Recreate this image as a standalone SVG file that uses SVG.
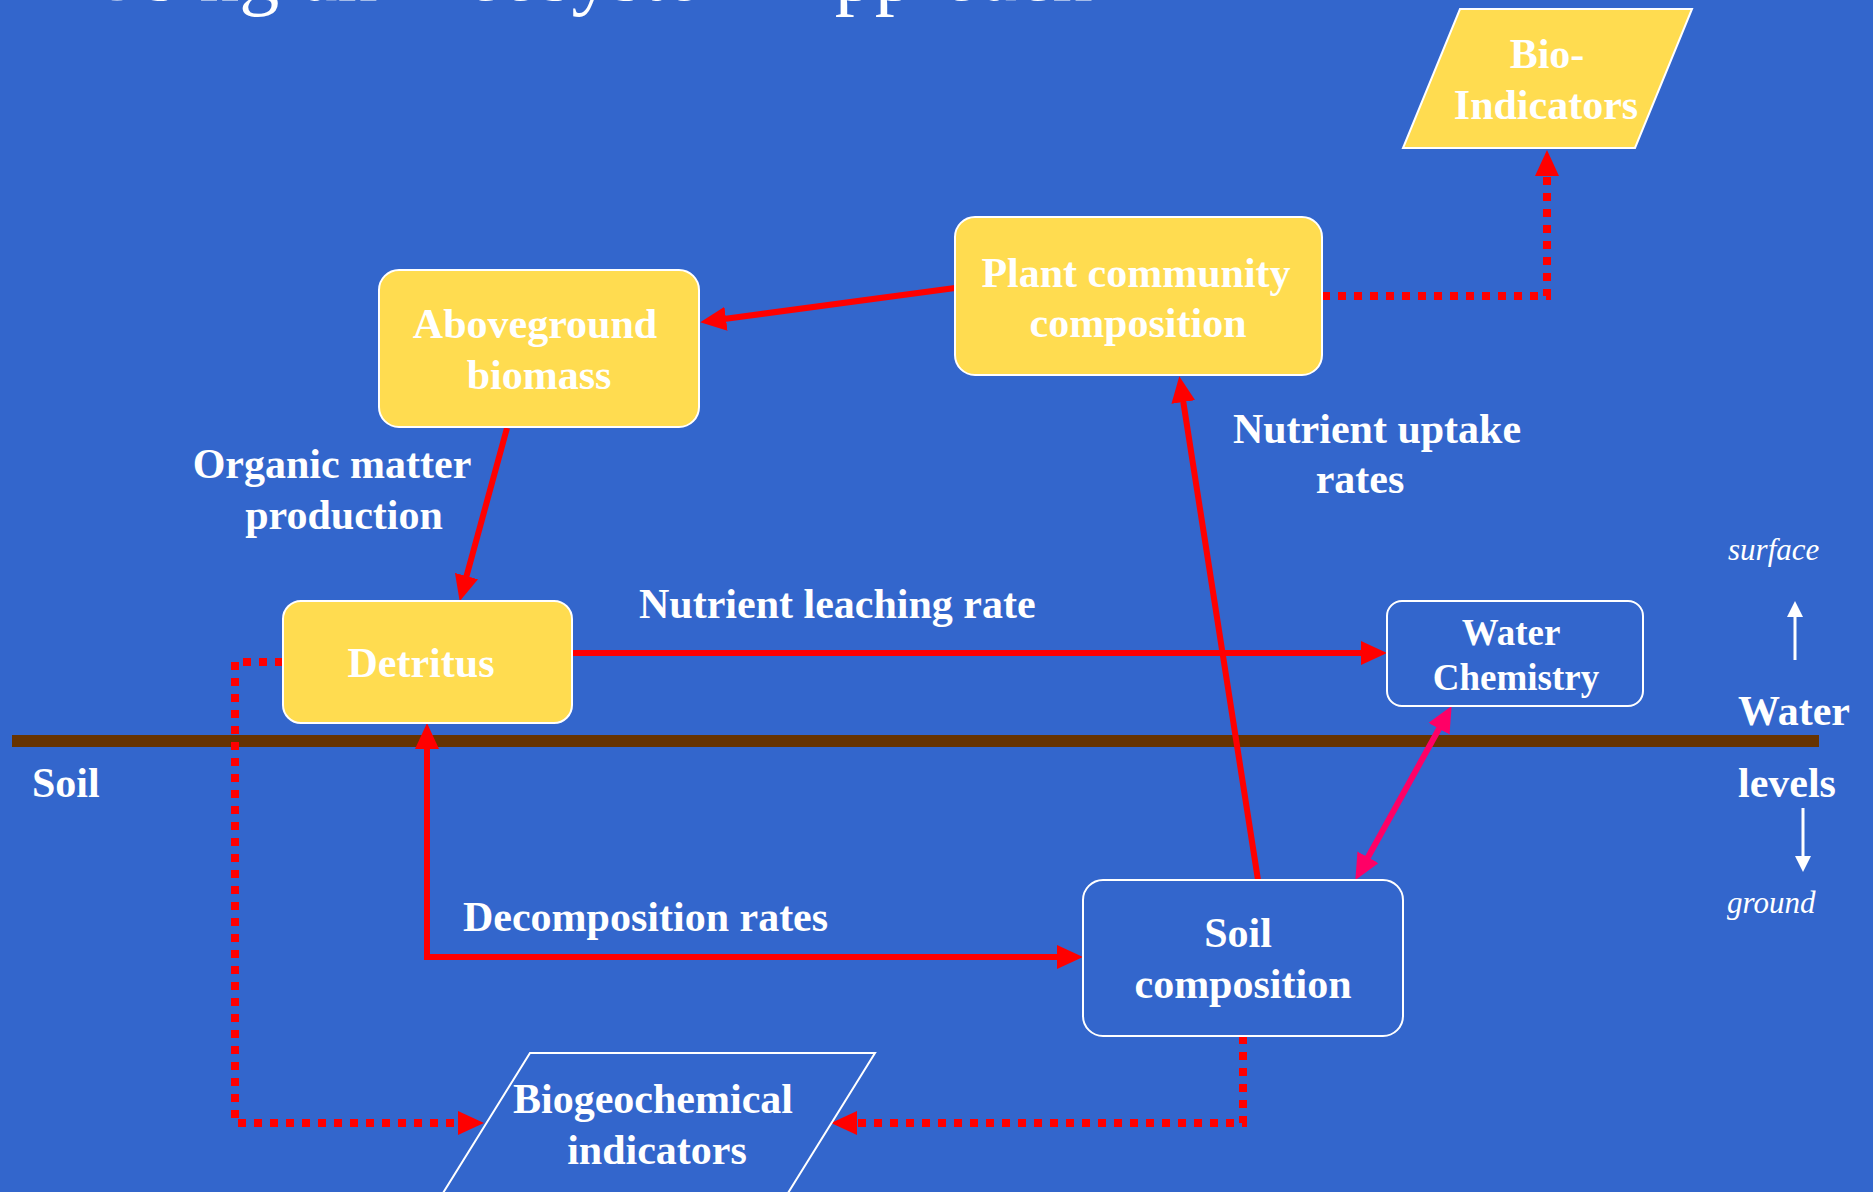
<svg xmlns="http://www.w3.org/2000/svg" width="1873" height="1192" viewBox="0 0 1873 1192">
  <style>
    .yel { fill: #FFDC50; stroke: #FFFFFF; stroke-width: 2; }
    .blu { fill: none; stroke: #FFFFFF; stroke-width: 2; }
    .t { font-family: "Liberation Serif", "Times New Roman", serif; font-weight: bold; font-size: 42px; fill: #FFFFFF; }
    .c { text-anchor: middle; }
    .wc { font-size: 37px; }
    .it { font-family: "Liberation Serif", "Times New Roman", serif; font-style: italic; font-size: 31px; fill: #FFFFFF; }
    .title { font-family: "Liberation Serif", "Times New Roman", serif; font-size: 80px; fill: #FFFFFF; }
    .solid { fill: none; stroke: #FF0000; stroke-width: 6; }
    .dot { fill: none; stroke: #FF0000; stroke-width: 8; stroke-dasharray: 8 8; }
    .pink { fill: none; stroke: #FF0066; stroke-width: 6; }
    .white { fill: none; stroke: #FFFFFF; stroke-width: 3; }
  </style>
  <defs>
    <marker id="ar" markerUnits="userSpaceOnUse" markerWidth="26" markerHeight="24" refX="2" refY="12" orient="auto-start-reverse" viewBox="0 0 26 24">
      <path d="M0,0 L26,12 L0,24 z" fill="#FF0000"/>
    </marker>
    <marker id="ap" markerUnits="userSpaceOnUse" markerWidth="26" markerHeight="24" refX="2" refY="12" orient="auto-start-reverse" viewBox="0 0 26 24">
      <path d="M0,0 L26,12 L0,24 z" fill="#FF0066"/>
    </marker>
    <marker id="aw" markerUnits="userSpaceOnUse" markerWidth="16" markerHeight="16" refX="1" refY="8" orient="auto" viewBox="0 0 16 16">
      <path d="M0,0 L16,8 L0,16 z" fill="#FFFFFF"/>
    </marker>
  </defs>

  <rect x="0" y="0" width="1873" height="1192" fill="#3366CC"/>

  <text class="title" y="0"><tspan x="88">Using</tspan><tspan x="302">an</tspan><tspan x="416">Ecosystem</tspan><tspan x="777">Approach</tspan></text>

  <!-- soil / water boundary -->
  <rect id="ground-line" x="12" y="735" width="1807" height="12" fill="#663300"/>

  <g id="connectors">
    <path class="solid" d="M955,288 L724,319" marker-end="url(#ar)"/>
    <path class="solid" d="M507,428 L466,578" marker-end="url(#ar)"/>
    <path class="solid" d="M572,653 L1363,653" marker-end="url(#ar)"/>
    <path class="solid" d="M1258,880 L1183,400" marker-end="url(#ar)"/>
    <path class="pink" d="M1440,727 L1367,859" marker-start="url(#ap)" marker-end="url(#ap)"/>
    <path class="solid" d="M427,747 L427,957 L1059,957" marker-start="url(#ar)" marker-end="url(#ar)"/>
    <path class="dot" d="M1322,296 L1547,296 L1547,174" marker-end="url(#ar)"/>
    <path class="dot" d="M283,662 L235,662 L235,1123 L460,1123" marker-end="url(#ar)"/>
    <path class="dot" d="M1243,1036 L1243,1123 L855,1123" marker-end="url(#ar)"/>
    <path class="white" d="M1795,660 L1795,616" marker-end="url(#aw)"/>
    <path class="white" d="M1803,808 L1803,857" marker-end="url(#aw)"/>
  </g>

  <g id="bio-indicators">
    <polygon class="yel" points="1460,9 1692,9 1635,148 1403,148"/>
    <text class="t c" x="1547" y="68">Bio-</text>
    <text class="t c" x="1546" y="119">Indicators</text>
  </g>

  <g id="plant-community">
    <rect class="yel" x="955" y="217" width="367" height="158" rx="20"/>
    <text class="t c" x="1136" y="287">Plant community</text>
    <text class="t c" x="1138" y="337">composition</text>
  </g>

  <g id="aboveground-biomass">
    <rect class="yel" x="379" y="270" width="320" height="157" rx="20"/>
    <text class="t c" x="535" y="338">Aboveground</text>
    <text class="t c" x="539" y="389">biomass</text>
  </g>

  <g id="detritus">
    <rect class="yel" x="283" y="601" width="289" height="122" rx="18"/>
    <text class="t c" x="421" y="677">Detritus</text>
  </g>

  <g id="water-chemistry">
    <rect class="blu" x="1387" y="601" width="256" height="105" rx="15"/>
    <text class="t c wc" x="1511" y="645">Water</text>
    <text class="t c wc" x="1516" y="690">Chemistry</text>
  </g>

  <g id="soil-composition">
    <rect class="blu" x="1083" y="880" width="320" height="156" rx="20"/>
    <text class="t c" x="1238" y="947">Soil</text>
    <text class="t c" x="1243" y="998">composition</text>
  </g>

  <g id="biogeochemical-indicators">
    <polygon class="blu" points="530,1053 875,1053 765,1230 420,1230"/>
    <text class="t c" x="653" y="1113">Biogeochemical</text>
    <text class="t c" x="657" y="1164">indicators</text>
  </g>

  <g id="labels">
    <text class="t c" x="332" y="478">Organic matter</text>
    <text class="t c" x="344" y="529">production</text>
    <text class="t c" x="1377" y="443">Nutrient uptake</text>
    <text class="t c" x="1360" y="493">rates</text>
    <text class="t" x="639" y="618">Nutrient leaching rate</text>
    <text class="t" x="463" y="931">Decomposition rates</text>
    <text class="t" x="32" y="797">Soil</text>
    <text class="t" x="1738" y="725">Water</text>
    <text class="t" x="1738" y="797">levels</text>
    <text class="it" x="1728" y="560">surface</text>
    <text class="it" x="1727" y="913">ground</text>
  </g>
</svg>
